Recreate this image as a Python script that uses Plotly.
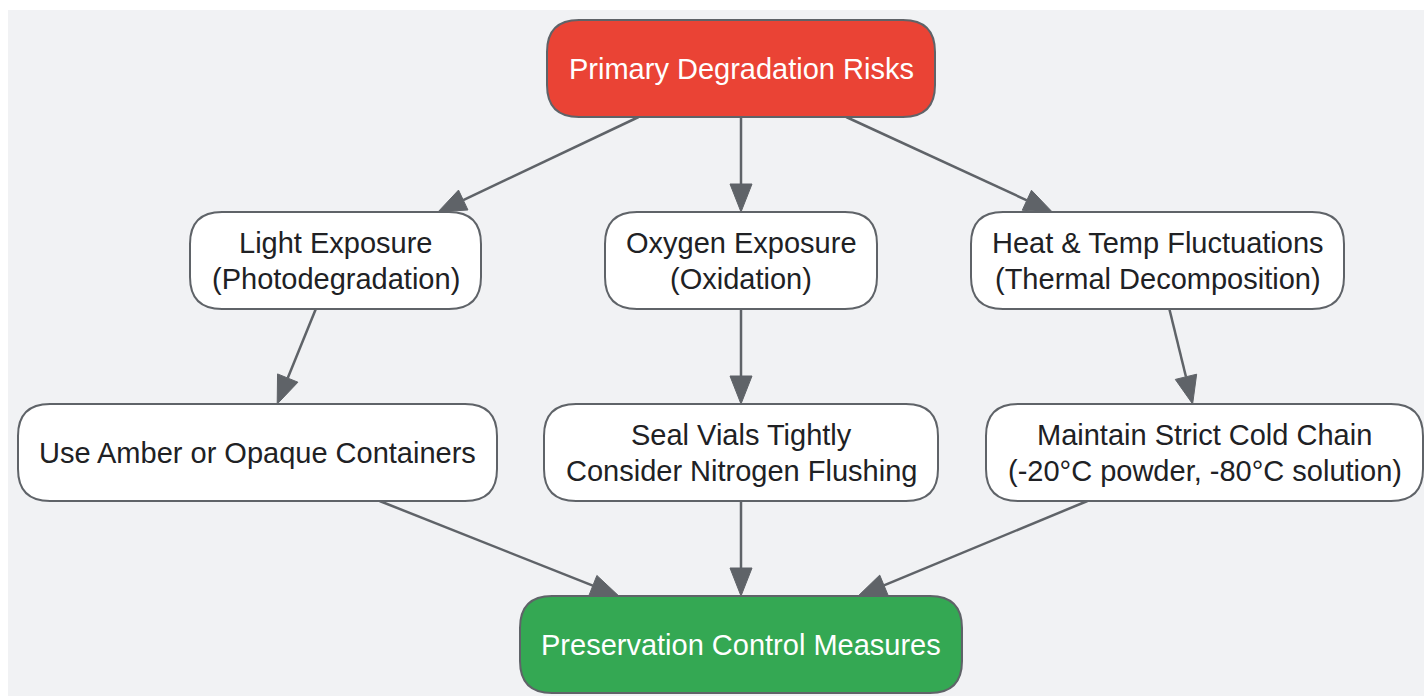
import plotly.graph_objects as go
import math

# ---- diagram content ----
node_ids = ["risk", "light", "oxy", "heat", "amber", "seal", "cold", "ctrl"]
node_labels = [
    "Primary Degradation Risks",
    "Light Exposure<br>(Photodegradation)",
    "Oxygen Exposure<br>(Oxidation)",
    "Heat & Temp Fluctuations<br>(Thermal Decomposition)",
    "Use Amber or Opaque Containers",
    "Seal Vials Tightly<br>Consider Nitrogen Flushing",
    "Maintain Strict Cold Chain<br>(-20°C powder, -80°C solution)",
    "Preservation Control Measures",
]
node_kinds = ["risk", "plain", "plain", "plain", "plain", "plain", "plain", "ctrl"]
edges_from = ["risk", "risk", "risk", "light", "oxy", "heat", "amber", "seal", "cold"]
edges_to = ["light", "oxy", "heat", "amber", "seal", "cold", "ctrl", "ctrl", "ctrl"]

# ---- layout (page-pixel boxes: x0, y0, x1, y1) ----
boxes = {
    "risk": (547, 20, 935, 117),
    "light": (190, 212, 481, 309),
    "oxy": (605, 212, 877, 309),
    "heat": (971, 212, 1344, 309),
    "amber": (18, 404, 497, 501),
    "seal": (544, 404, 938, 501),
    "cold": (986, 404, 1423, 501),
    "ctrl": (520, 596, 962, 693),
}
styles = {
    "risk": dict(fill="#ea4335", font="#ffffff"),
    "plain": dict(fill="#ffffff", font="#202124"),
    "ctrl": dict(fill="#34a853", font="#ffffff"),
}
W, H = 1424, 696
BG = "#f1f2f4"
EDGE = "#5f6368"
RADIUS = 32
FONT_SIZE = 29
LINE_GAP = 36
HEAD_LEN = 28
HEAD_HALF = 11


def rounded_path(x0, y0, x1, y1, r):
    return (f"M {x0+r},{y0} L {x1-r},{y0} Q {x1},{y0} {x1},{y0+r} "
            f"L {x1},{y1-r} Q {x1},{y1} {x1-r},{y1} L {x0+r},{y1} "
            f"Q {x0},{y1} {x0},{y1-r} L {x0},{y0+r} Q {x0},{y0} {x0+r},{y0} Z")


def center(b):
    return ((b[0] + b[2]) / 2, (b[1] + b[3]) / 2)


def clip(b, cx, cy, dx, dy):
    ts = []
    if dx > 0:
        ts.append((b[2] - cx) / dx)
    elif dx < 0:
        ts.append((b[0] - cx) / dx)
    if dy > 0:
        ts.append((b[3] - cy) / dy)
    elif dy < 0:
        ts.append((b[1] - cy) / dy)
    return min(ts)


shapes = [dict(type="rect", xref="x", yref="y", x0=8, y0=10, x1=W, y1=H,
               fillcolor=BG, line=dict(width=0), layer="below")]
annotations = []

# edges
for a, b in zip(edges_from, edges_to):
    ba, bb = boxes[a], boxes[b]
    (ax, ay), (bx, by) = center(ba), center(bb)
    dx, dy = bx - ax, by - ay
    t0 = clip(ba, ax, ay, dx, dy)
    t1 = 1 - clip(bb, bx, by, -dx, -dy)
    sx, sy = ax + t0 * dx, ay + t0 * dy
    ex, ey = ax + t1 * dx, ay + t1 * dy
    L = math.hypot(dx, dy)
    ux, uy = dx / L, dy / L
    bxh, byh = ex - HEAD_LEN * ux, ey - HEAD_LEN * uy
    px, py = -uy, ux
    shapes.append(dict(type="line", xref="x", yref="y", x0=sx, y0=sy, x1=bxh, y1=byh,
                       line=dict(color=EDGE, width=2.5)))
    shapes.append(dict(type="path", xref="x", yref="y",
                       path=f"M {ex},{ey} L {bxh+HEAD_HALF*px},{byh+HEAD_HALF*py} "
                            f"L {bxh-HEAD_HALF*px},{byh-HEAD_HALF*py} Z",
                       fillcolor=EDGE, line=dict(color=EDGE, width=1)))

# nodes
for nid, label, kind in zip(node_ids, node_labels, node_kinds):
    b = boxes[nid]
    st = styles[kind]
    shapes.append(dict(type="path", xref="x", yref="y", path=rounded_path(*b, RADIUS),
                       fillcolor=st["fill"], line=dict(color=EDGE, width=2)))
    cx, cy = center(b)
    lines = label.split("<br>")
    n = len(lines)
    for i, ln in enumerate(lines):
        ly = cy + (i - (n - 1) / 2) * LINE_GAP
        annotations.append(dict(x=cx, y=ly, xref="x", yref="y", text=ln, showarrow=False,
                                font=dict(family="Liberation Sans, Arial, sans-serif",
                                          size=FONT_SIZE, color=st["font"]),
                                align="center", xanchor="center", yanchor="middle"))

fig = go.Figure()
fig.update_layout(
    width=W, height=H, margin=dict(l=0, r=0, t=0, b=0),
    paper_bgcolor="#ffffff", plot_bgcolor="#ffffff",
    xaxis=dict(range=[0, W], visible=False, fixedrange=True),
    yaxis=dict(range=[H, 0], visible=False, fixedrange=True),
    shapes=shapes, annotations=annotations, showlegend=False,
)
fig.write_html(
    "out.html",
    config={"displayModeBar": False},
    post_script="document.body.style.margin='0';document.body.style.overflow='hidden';",
)
